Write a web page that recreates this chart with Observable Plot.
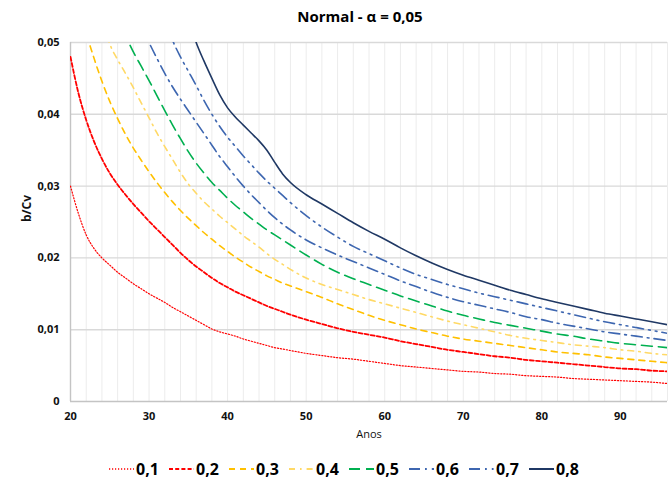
<!DOCTYPE html>
<html><head><meta charset="utf-8">
<script src="https://cdn.jsdelivr.net/npm/d3@7"></script>
<script src="https://cdn.jsdelivr.net/npm/@observablehq/plot@0.6"></script>
<style>
body{margin:0;background:#fff;font-family:"Open Sans",sans-serif;}
#wrap{position:relative;width:668px;height:486px;overflow:hidden;}
#frame{position:absolute;left:4px;top:0;width:0;height:486px;border-left:1px solid #d9d9d9;}
#title{position:absolute;left:0;width:720px;top:6px;text-align:center;font-weight:bold;font-size:15px;color:#000;}
#chart{position:absolute;left:0;top:0;}
.lg{position:absolute;top:457px;height:24px;display:flex;align-items:center;font-weight:bold;font-size:16px;color:#000;}
.lg svg{margin-right:2px;}
</style></head>
<body>
<div id="wrap">
  <div id="frame"></div>
  <div id="chart"></div>
  <div id="title">Normal - α = 0,05</div>
  <div id="legend"></div>
</div>
<script>
// ---- data ----
const years = [20,21,22,23,24,25,26,27,28,29,30,31,32,33,34,35,36,37,38,39,40,41,42,43,44,45,46,47,48,
  50,52,54,56,58,60,62,64,66,68,70,72,74,76,78,80,82,84,86,88,90,92,94,96];
const v01 = [0.0300,0.0262,0.0232,0.0213,0.0200,0.0190,0.0180,0.0172,0.0164,0.0157,0.0150,0.0144,0.0138,0.0131,0.0125,0.0119,0.0113,0.0107,0.0101,0.0097,0.0094,0.0091,0.0087,0.0084,0.0081,0.0078,0.0075,0.0073,0.0071,
  0.0067,0.0064,0.0061,0.0059,0.0056,0.0053,0.0050,0.0048,0.0046,0.0044,0.0042,0.0041,0.0039,0.0038,0.0036,0.0035,0.0034,0.0032,0.0031,0.0030,0.0029,0.0028,0.0027,0.0025];
const v02 = [0.0480,0.0430,0.0392,0.0362,0.0338,0.0318,0.0302,0.0288,0.0275,0.0263,0.0251,0.0240,0.0229,0.0218,0.0207,0.0197,0.0188,0.0180,0.0172,0.0165,0.0159,0.0153,0.0148,0.0143,0.0138,0.0133,0.0129,0.0125,0.0121,
  0.0114,0.0108,0.0102,0.0097,0.0093,0.0089,0.0084,0.0080,0.0076,0.0072,0.0069,0.0066,0.0063,0.0061,0.0058,0.0056,0.0054,0.0052,0.0050,0.0048,0.0046,0.0045,0.0043,0.0042];
const v03 = [null,0.0570,0.0515,0.0478,0.0446,0.0418,0.0394,0.0372,0.0353,0.0336,0.0320,0.0305,0.0291,0.0278,0.0266,0.0255,0.0245,0.0235,0.0226,0.0217,0.0209,0.0201,0.0194,0.0187,0.0181,0.0175,0.0170,0.0165,0.0161,
  0.0153,0.0145,0.0136,0.0128,0.0120,0.0113,0.0107,0.0101,0.0096,0.0091,0.0087,0.0084,0.0081,0.0078,0.0075,0.0072,0.0069,0.0067,0.0065,0.0062,0.0060,0.0058,0.0056,0.0054];
const v04 = [null,null,null,0.0580,0.0535,0.0498,0.0476,0.0457,0.0437,0.0416,0.0395,0.0374,0.0355,0.0337,0.0319,0.0303,0.0290,0.0278,0.0268,0.0258,0.0249,0.0240,0.0231,0.0223,0.0215,0.0206,0.0198,0.0191,0.0184,
  0.0172,0.0163,0.0156,0.0149,0.0142,0.0136,0.0130,0.0124,0.0118,0.0112,0.0107,0.0102,0.0097,0.0092,0.0088,0.0085,0.0082,0.0079,0.0077,0.0075,0.0072,0.0070,0.0067,0.0065];
const v05 = [null,null,null,null,null,null,0.0540,0.0510,0.0487,0.0467,0.0447,0.0426,0.0405,0.0385,0.0366,0.0348,0.0332,0.0318,0.0305,0.0294,0.0283,0.0273,0.0264,0.0255,0.0247,0.0239,0.0232,0.0225,0.0218,
  0.0204,0.0191,0.0180,0.0171,0.0163,0.0155,0.0147,0.0140,0.0133,0.0126,0.0120,0.0115,0.0110,0.0106,0.0102,0.0098,0.0094,0.0091,0.0087,0.0084,0.0081,0.0079,0.0077,0.0075];
const v06 = [null,null,null,null,null,null,null,null,null,0.0525,0.0500,0.0478,0.0457,0.0438,0.0421,0.0405,0.0389,0.0373,0.0357,0.0341,0.0327,0.0313,0.0300,0.0288,0.0277,0.0266,0.0256,0.0247,0.0239,
  0.0225,0.0214,0.0204,0.0195,0.0186,0.0177,0.0168,0.0160,0.0152,0.0145,0.0139,0.0134,0.0129,0.0124,0.0118,0.0114,0.0109,0.0105,0.0101,0.0097,0.0094,0.0091,0.0088,0.0085];
const v07 = [null,null,null,null,null,null,null,null,null,null,null,0.0570,0.0535,0.0503,0.0480,0.0460,0.0440,0.0419,0.0400,0.0383,0.0368,0.0355,0.0342,0.0330,0.0318,0.0307,0.0297,0.0287,0.0277,
  0.0259,0.0243,0.0229,0.0216,0.0206,0.0196,0.0186,0.0177,0.0170,0.0163,0.0157,0.0151,0.0146,0.0141,0.0136,0.0131,0.0126,0.0121,0.0116,0.0111,0.0107,0.0103,0.0099,0.0095];
const v08 = [null,null,null,null,null,null,null,null,null,null,null,null,null,null,null,0.0535,0.0500,0.0474,0.0450,0.0427,0.0409,0.0396,0.0385,0.0374,0.0363,0.0350,0.0333,0.0317,0.0305,
  0.0288,0.0275,0.0262,0.0249,0.0237,0.0226,0.0214,0.0203,0.0193,0.0184,0.0176,0.0169,0.0162,0.0155,0.0149,0.0143,0.0138,0.0133,0.0128,0.0123,0.0119,0.0115,0.0111,0.0107];
const seriesNames = ["0,1","0,2","0,3","0,4","0,5","0,6","0,7","0,8"];
const xTicks = [20,30,40,50,60,70,80,90];
const yTicks = [0,0.01,0.02,0.03,0.04,0.05];

// ---- styles ----
const styles = [
  {stroke:"#FF0000", width:1.2, dash:"1.2 1.8"},
  {stroke:"#FF0000", width:1.8, dash:"4 2.2"},
  {stroke:"#FFC000", width:1.6, dash:"6 5"},
  {stroke:"#FFD966", width:1.6, dash:"6 5 1.6 5"},
  {stroke:"#00B050", width:1.6, dash:"11 6"},
  {stroke:"#3D66B0", width:1.6, dash:"11 5 1.8 5"},
  {stroke:"#3D66B0", width:1.6, dash:"11 5 1.8 5 1.8 5"},
  {stroke:"#1F3864", width:1.6, dash:null}
];
const allValues = [v01,v02,v03,v04,v05,v06,v07,v08];
const lineData = allValues.map(vals => years.map((yr,i)=>({year:yr, v:vals[i]})).filter(d=>d.v!=null));

const fmt = d => d===0 ? "0" : d3.format(".2f")(d).replace(".",",");

const chart = Plot.plot({
  width:668, height:486,
  marginLeft:70, marginRight:1, marginTop:42, marginBottom:85,
  style:{fontFamily:"Open Sans", fontSize:"11px", color:"#111", background:"#fff"},
  x:{domain:[20,96]},
  y:{domain:[0,0.05]},
  marks:[
    Plot.ruleX(d3.range(22,97,2), {stroke:"#ececec", strokeWidth:1}),
    Plot.ruleY(yTicks.filter(d=>d>0), {stroke:"#d9d9d9", strokeWidth:1.4}),
    Plot.ruleY([0], {stroke:"#c4c4c4", strokeWidth:1.4}),
    Plot.ruleX([20], {stroke:"#c4c4c4", strokeWidth:1.4}),
    Plot.axisY({ticks:yTicks, tickSize:0, tickPadding:11, tickFormat:fmt, fontWeight:"bold", fontSize:11, label:null}),
    Plot.axisX({ticks:xTicks, tickSize:0, tickPadding:11, fontWeight:"bold", fontSize:11, label:null}),
    ...lineData.map((data,i)=>Plot.line(data, {x:"year", y:"v", stroke:styles[i].stroke, strokeWidth:styles[i].width,
        strokeDasharray:styles[i].dash, curve:"monotone-x", clip:true})),
    Plot.text(["b/Cv"], {text:d=>d, frameAnchor:"left", dx:-43, rotate:-90, fontWeight:"bold", fontSize:12}),
    Plot.text(["Anos"], {text:d=>d, frameAnchor:"bottom", dy:36, fontSize:11})
  ]
});
document.getElementById("chart").appendChild(chart);

// ---- legend ----
const legend = document.getElementById("legend");
seriesNames.forEach((name,i)=>{
  const s = styles[i];
  const item = document.createElement("div");
  item.className = "lg";
  item.style.left = (109 + i*60) + "px";
  item.innerHTML = `<svg width="25" height="10"><line x1="0" y1="5" x2="25" y2="5" stroke="${s.stroke}" stroke-width="${s.width+0.4}" ${s.dash?`stroke-dasharray="${s.dash}"`:""}/></svg><span>${name}</span>`;
  legend.appendChild(item);
});
</script>
</body></html>
